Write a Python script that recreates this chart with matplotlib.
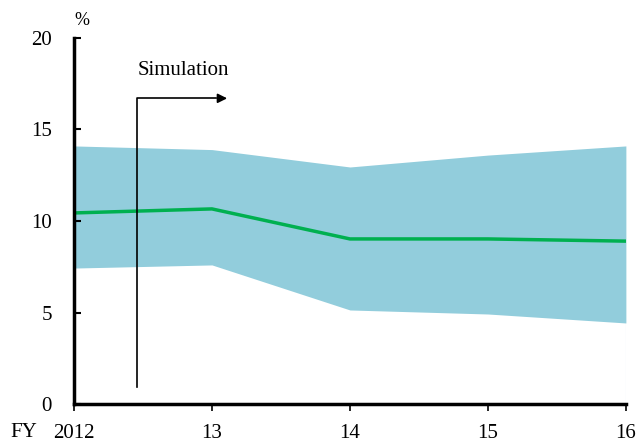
import matplotlib
matplotlib.use("Agg")
import matplotlib.pyplot as plt

years = [2012, 2013, 2014, 2015, 2016]
year_labels = ["2012", "13", "14", "15", "16"]
upper = [14.1, 13.9, 12.95, 13.6, 14.1]
lower = [7.43, 7.6, 5.14, 4.92, 4.43]
central = [10.44, 10.66, 9.02, 9.02, 8.9]

sim_x = 2012.46
sim_bottom = 0.93
sim_top = 16.7
sim_right = 2013.13


def main():
    plt.rcParams["font.family"] = ["Liberation Serif", "DejaVu Serif"]
    fig = plt.figure(figsize=(6.38, 4.46), dpi=100)
    ax = fig.add_axes([0.116, 0.094, 0.865, 0.821])

    ax.fill_between(years, lower, upper, color="#92CDDC", linewidth=0)
    ax.plot([years[-1], years[-1]], [0, lower[-1]], color="#CFE8EF", linewidth=0.8)
    ax.plot(years, central, color="#00B050", linewidth=2.5)

    ax.plot([sim_x, sim_x, sim_right - 0.1], [sim_bottom, sim_top, sim_top],
            color="black", linewidth=1.2)
    ax.annotate("", xy=(sim_right, sim_top), xytext=(sim_right - 0.11, sim_top),
                arrowprops=dict(arrowstyle="-|>", color="black", lw=1.2,
                                mutation_scale=14))
    ax.text(2012.79, 18.2, "Simulation", ha="center", va="center", fontsize=15)

    ax.set_xlim(2012, 2016)
    ax.set_ylim(0, 20)
    ax.set_xticks(years)
    ax.set_xticklabels(year_labels, fontsize=15)
    ax.set_yticks([0, 5, 10, 15, 20])
    ax.tick_params(axis="y", direction="in", length=5, width=1.5, labelsize=15, pad=16)
    ax.tick_params(axis="x", direction="out", length=5, width=1.2, labelsize=15, pad=9)
    for s in ["top", "right"]:
        ax.spines[s].set_visible(False)
    for s in ["left", "bottom"]:
        ax.spines[s].set_linewidth(2.5)

    ax.text(0.0, 1.035, "%", transform=ax.transAxes, fontsize=13, ha="left")
    ax.text(-0.066, -0.077, "FY", transform=ax.transAxes, fontsize=15,
            ha="right", va="center")

    fig.savefig("out.png", dpi=100)
    plt.close(fig)


if __name__ == "__main__":
    main()
